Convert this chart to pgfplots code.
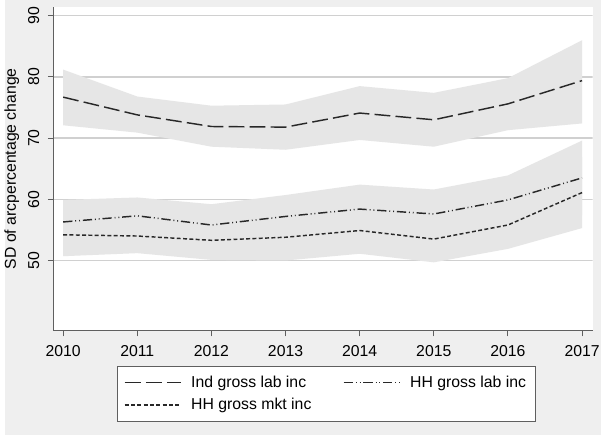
\documentclass[border=0pt]{standalone}
\usepackage{pgfplots}
\pgfplotsset{compat=1.18}
\usepackage{pgfplotstable}
\usepackage{fontspec}
\setmainfont{Liberation Sans}
\definecolor{bgc}{RGB}{239,239,239}
\definecolor{bandc}{RGB}{230,230,230}
\definecolor{linec}{RGB}{40,40,40}
\definecolor{gridc}{RGB}{208,208,208}
\definecolor{axc}{RGB}{95,95,95}

\pgfplotstableread{
year ind  lab  mkt
2010 76.7 56.3 54.2
2011 73.8 57.3 54.0
2012 71.9 55.8 53.3
2013 71.8 57.2 53.8
2014 74.1 58.4 54.9
2015 73.0 57.6 53.5
2016 75.6 59.9 55.8
2017 79.4 63.5 61.1
}\data

% confidence bands: upper bound forward, lower bound backward
\pgfplotstableread{
year y
2010 81.2
2011 76.8
2012 75.3
2013 75.5
2014 78.5
2015 77.4
2016 79.8
2017 86.0
2017 72.4
2016 71.3
2015 68.6
2014 69.7
2013 68.1
2012 68.6
2011 70.9
2010 72.1
}\indband

\pgfplotstableread{
year y
2010 59.9
2011 60.3
2012 59.2
2013 60.7
2014 62.4
2015 61.6
2016 63.9
2017 69.6
2017 57.4
2016 55.9
2015 53.6
2014 54.4
2013 53.7
2012 52.4
2011 54.3
2010 52.7
}\labband

\pgfplotstableread{
year y
2010 57.7
2011 56.8
2012 56.5
2013 57.6
2014 58.7
2015 57.3
2016 59.7
2017 66.9
2017 55.3
2016 51.9
2015 49.7
2014 51.1
2013 50.0
2012 50.1
2011 51.2
2010 50.7
}\mktband

\begin{document}
\begin{tikzpicture}[font=\fontsize{12}{14}\selectfont]
\fill[bgc] (0pt,0pt) rectangle (453pt,330.75pt);
\fill[white] (36.75pt,79.5pt) rectangle (446.25pt,325.5pt);
\begin{axis}[
  at={(36.75pt,79.5pt)}, anchor=south west,
  scale only axis, width=409.5pt, height=246pt,
  xmin=2009.874, xmax=2017.142, ymin=38.55, ymax=91.45,
  axis x line*=bottom, axis y line*=left,
  axis line style={axc, line width=0.8pt},
  xtick={2010,2011,2012,2013,2014,2015,2016,2017},
  ytick={50,60,70,80,90},
  /pgf/number format/assume math mode=true,
  x tick label style={/pgf/number format/1000 sep={}},
  tick align=outside, major tick length=4.5pt,
  tick style={axc, line width=0.8pt},
  yticklabel style={rotate=90, anchor=south},
  yticklabel shift=3pt,
  xticklabel shift=3pt,
  ylabel={SD of arcpercentage change},
  legend columns=2,
  legend cell align=left,
  legend image code/.code={\draw[#1] (0pt,0pt) -- (43pt,0pt);},
  legend style={at={(0.1172,-0.1098)}, anchor=north west, draw=axc, line width=0.7pt, fill=white,
    inner xsep=5pt, inner ysep=5pt, row sep=3pt,
    /tikz/every odd column/.append style={column sep=5pt},
    /tikz/every even column/.append style={column sep=22pt}},
]
\pgfplotsinvokeforeach{50,60,70,80,90}{
  \draw[gridc, line width=1pt] (axis cs:2009.874,#1) -- (axis cs:2017.142,#1);
}
\addplot[fill=bandc, draw=none, forget plot] table[x=year,y=y] {\indband};
\addplot[fill=bandc, draw=none, forget plot] table[x=year,y=y] {\labband};
\addplot[fill=bandc, draw=none, forget plot] table[x=year,y=y] {\mktband};

\addplot[linec, line width=1.1pt, dash pattern=on 12pt off 4pt] table[x=year,y=ind] {\data};
\addlegendentry{Ind gross lab inc}
\addplot[linec, line width=1.1pt, dash pattern=on 7pt off 2.2pt on 0.7pt off 2.2pt on 0.7pt off 2.2pt] table[x=year,y=lab] {\data};
\addlegendentry{HH gross lab inc}
\addplot[linec, line width=1.1pt, dash pattern=on 3pt off 1.8pt] table[x=year,y=mkt] {\data};
\addlegendentry{HH gross mkt inc}
\end{axis}
\end{tikzpicture}
\end{document}
